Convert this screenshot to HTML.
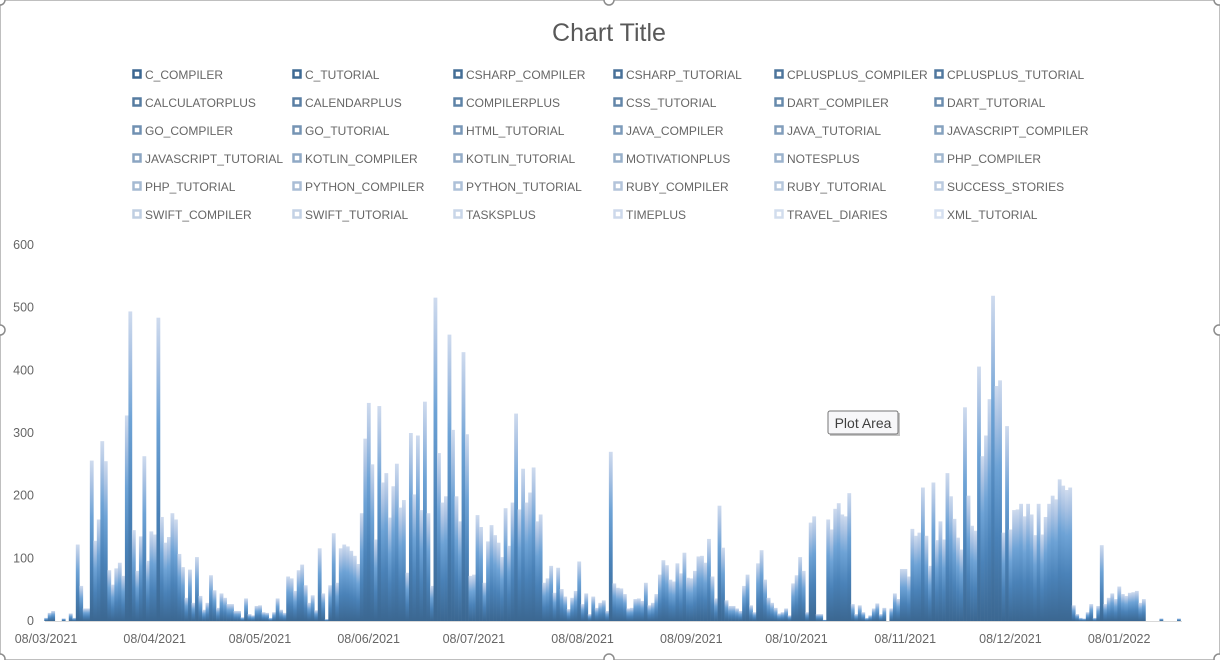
<!DOCTYPE html>
<html><head><meta charset="utf-8"><style>
body{margin:0;background:#fff;font-family:"Liberation Sans",sans-serif;}
#wrap{position:relative;width:1220px;height:660px;overflow:hidden;}
svg text{font-family:"Liberation Sans",sans-serif;fill:#666;}
</style></head><body>
<div id="wrap">
<svg id="chart" width="1220" height="660">
<defs><linearGradient id="barGrad" x1="0" y1="1" x2="0" y2="0">
<stop offset="0" stop-color="#3b6791"/><stop offset="0.35" stop-color="#4a82b8"/><stop offset="0.65" stop-color="#6ea3d6"/><stop offset="0.85" stop-color="#a9c2e3"/><stop offset="1" stop-color="#cfdbee"/></linearGradient></defs>
<rect x="0.5" y="0.5" width="1219" height="659" fill="none" stroke="#bfbfbf"/>
<text x="609" y="41" font-size="25" text-anchor="middle" style="fill:#595959">Chart Title</text>
<g id="legend"></g>
<g id="yaxis"></g>
<g id="bars"></g>
<line x1="45" y1="621.5" x2="1182" y2="621.5" stroke="#d9d9d9"/>
<g id="xaxis"></g>
<g>
<rect x="830" y="413" width="70" height="23" fill="#888" opacity="0.5"/>
<rect x="828" y="411" width="70" height="23" rx="2" fill="#f7f7f9" stroke="#767676"/>
<text x="863" y="428" font-size="14" text-anchor="middle" style="fill:#404040">Plot Area</text>
</g>
<g id="handles"></g>
</svg>
</div>
<script>
const seriesNames=["C_COMPILER","C_TUTORIAL","CSHARP_COMPILER","CSHARP_TUTORIAL","CPLUSPLUS_COMPILER","CPLUSPLUS_TUTORIAL","CALCULATORPLUS","CALENDARPLUS","COMPILERPLUS","CSS_TUTORIAL","DART_COMPILER","DART_TUTORIAL","GO_COMPILER","GO_TUTORIAL","HTML_TUTORIAL","JAVA_COMPILER","JAVA_TUTORIAL","JAVASCRIPT_COMPILER","JAVASCRIPT_TUTORIAL","KOTLIN_COMPILER","KOTLIN_TUTORIAL","MOTIVATIONPLUS","NOTESPLUS","PHP_COMPILER","PHP_TUTORIAL","PYTHON_COMPILER","PYTHON_TUTORIAL","RUBY_COMPILER","RUBY_TUTORIAL","SUCCESS_STORIES","SWIFT_COMPILER","SWIFT_TUTORIAL","TASKSPLUS","TIMEPLUS","TRAVEL_DIARIES","XML_TUTORIAL"];
const xTickLabels=["08/03/2021","08/04/2021","08/05/2021","08/06/2021","08/07/2021","08/08/2021","08/09/2021","08/10/2021","08/11/2021","08/12/2021","08/01/2022"];
const xTickDays=[0,31,61,92,122,153,184,214,245,275,306];
const yTicks=[0,100,200,300,400,500,600];
const dailyTotals=[5,13,16,0,0,4,0,12,5,122,56,20,20,256,128,162,287,255,81,58,84,93,72,328,494,145,80,135,263,96,143,138,484,166,125,134,172,162,107,86,37,82,29,102,40,18,29,73,49,21,44,37,27,27,16,16,6,36,11,9,24,25,14,13,5,14,36,18,13,71,68,48,81,90,57,29,41,17,116,44,3,57,140,61,116,122,119,112,104,91,172,291,348,250,130,343,221,236,165,215,251,181,193,77,300,202,296,177,350,172,56,516,268,189,199,457,305,199,159,429,298,72,74,169,150,61,127,153,137,125,102,180,120,189,331,178,243,189,205,245,159,170,61,68,88,45,85,51,39,19,37,48,95,27,44,11,39,21,29,33,16,270,60,53,52,43,20,21,35,36,32,61,25,29,43,74,97,89,66,63,92,76,109,69,68,80,103,104,93,131,71,36,184,117,33,24,24,20,16,56,74,25,14,92,113,66,37,29,21,12,14,20,9,60,73,102,80,14,157,167,11,11,2,162,146,179,188,170,167,204,27,11,25,14,5,9,20,28,11,21,0,20,44,35,83,83,71,147,136,141,213,136,88,221,129,159,130,236,199,163,133,114,341,200,152,144,406,263,296,354,519,375,384,141,311,146,177,178,187,167,187,170,137,187,138,166,187,200,194,226,216,209,213,25,11,5,4,14,27,5,24,121,27,37,44,35,55,43,40,45,46,48,29,35,0,0,0,0,4,0,0,0,0,4];
const NS="http://www.w3.org/2000/svg";
const x0=46,dayW=3.507,yBase=621,yScale=376/600;
function xPos(d){return x0+d*dayW;}
function yPos(v){return yBase-v*yScale;}
function mk(tag,attrs,parent){const e=document.createElementNS(NS,tag);for(const k in attrs)e.setAttribute(k,attrs[k]);parent.appendChild(e);return e;}
const lg=document.getElementById('legend');
function legendColor(i){const a=[59,103,145],b=[214,224,240],t=i/35;return `rgb(${Math.round(a[0]+(b[0]-a[0])*t)},${Math.round(a[1]+(b[1]-a[1])*t)},${Math.round(a[2]+(b[2]-a[2])*t)})`;}
const colX=[132,292,453,613,774,934];
seriesNames.forEach((n,i)=>{const r=Math.floor(i/6),c=i%6;const g=mk('g',{},lg);


mk('rect',{x:colX[c]+1.5,y:70+r*28+0.5,width:7,height:7,fill:'none',stroke:legendColor(i),'stroke-width':2.5},g);
const t=mk('text',{x:colX[c]+13,y:79+r*28,'font-size':12},g);t.textContent=n;});
const ya=document.getElementById('yaxis');
yTicks.forEach(v=>{const t=mk('text',{x:34,y:yPos(v)+4,'font-size':12.5,'text-anchor':'end'},ya);


t.textContent=v;});
const xa=document.getElementById('xaxis');
xTickLabels.forEach((l,i)=>{const t=mk('text',{x:xPos(xTickDays[i]),y:643,'font-size':12.5,'text-anchor':'middle'},xa);


t.textContent=l;});
const bg=document.getElementById('bars');
dailyTotals.forEach((v,i)=>{if(v<=0)return;const r=mk('rect',{x:xPos(i)-dayW/2,y:yPos(v),width:dayW+0.3,height:v*yScale,fill:'url(#barGrad)'},bg);

});
const hg=document.getElementById('handles');
[[0,0],[609,0],[1219,0],[0,330],[1219,330],[0,659],[609,659],[1219,659]].forEach(p=>{const c=mk('circle',{cx:p[0],cy:p[1],r:5,fill:'#fff',stroke:'#8c8c8c','stroke-width':1.5},hg);

});
</script>
</body></html>
